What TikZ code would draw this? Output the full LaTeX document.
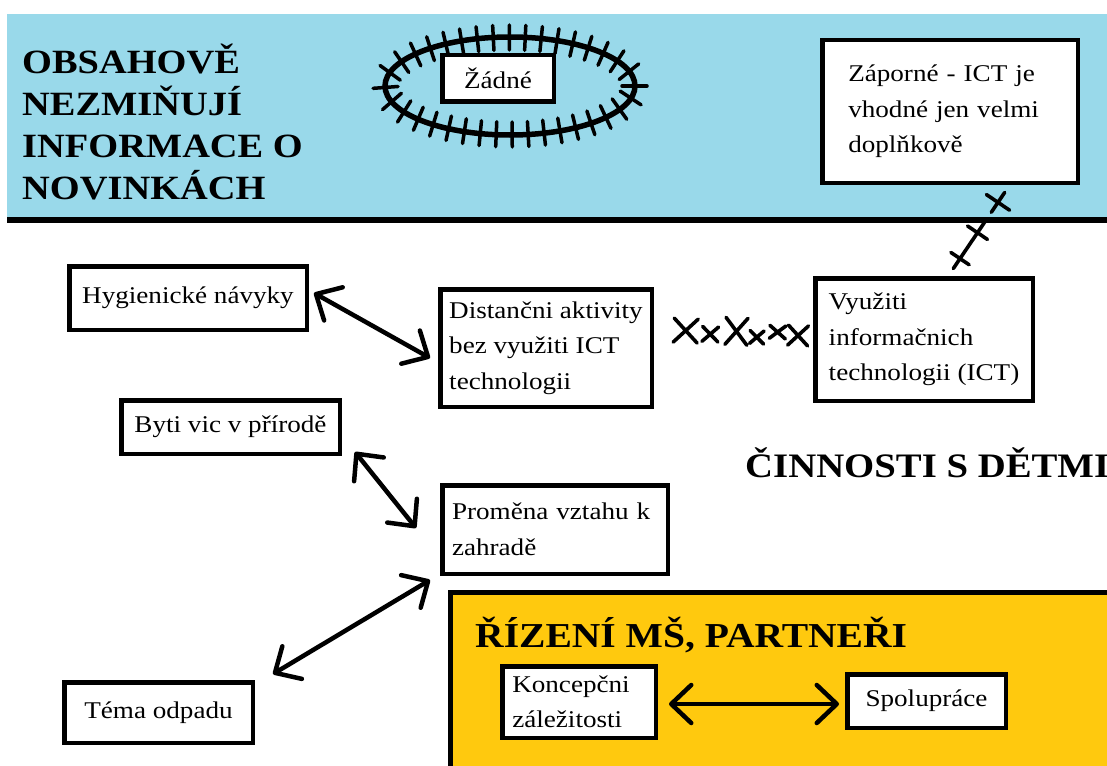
\documentclass[tikz,border=0pt]{standalone}
\usepackage{fontspec}
\setmainfont{Liberation Serif}[FakeStretch=1.13]
\usetikzlibrary{arrows.meta,decorations.markings}

\definecolor{bandblue}{HTML}{99D9EA}
\definecolor{gold}{HTML}{FFC90E}

\newcommand\txtbody{\fontsize{24}{35.5}\selectfont}
\newcommand\txthead{\bfseries\fontsize{34}{41.7}\selectfont}
\newcommand\txtsub{\bfseries\fontsize{35}{40}\selectfont}
\newcommand\txtkids{\bfseries\fontsize{34.3}{40}\selectfont}

\tikzset{
  box/.style={draw, line width=4.5pt, fill=white, inner sep=0pt,
              font=\txtbody, text=black},
  dbl/.style={line width=4.5pt, line cap=round,
              arrows={Straight Barb[length=20pt,width=38pt,round]-Straight Barb[length=20pt,width=38pt,round]}},
  hatch/.style={line width=3.5pt, line cap=round},
  xstroke/.style={line width=3.6pt, line cap=round},
  title/.style={inner sep=0pt, text=black},
}

\begin{document}
\begin{tikzpicture}[x=1pt, y=-1pt]
  \useasboundingbox (0,0) rectangle (1107,765);
  \clip (0,0) rectangle (1107,765);
  \fill[white] (0,0) rectangle (1107,765);

  % top band
  \fill[bandblue] (7,14) rectangle (1107,218);
  \draw[line width=6.5pt] (7,220) -- (1110,220);

  % management area
  \draw[line width=5.5pt, fill=gold] (450.5,592.5) rectangle (1130,790);

  % headings (the base anchor of a multi-line node sits on its last line)
  \node[title, anchor=base west, align=left, font=\txthead] (news) at (22,199)
    {OBSAHOVĚ\\NEZMIŇUJÍ\\INFORMACE O\\NOVINKÁCH};
  \node[title, anchor=base west, font=\txtkids] (kids) at (745,477) {ČINNOSTI S DĚTMI};
  \node[title, anchor=base west, font=\txtsub] (mgmt) at (475,647) {ŘÍZENÍ MŠ, PARTNEŘI};

  % hatched ring
  \draw[line width=5.5pt, postaction={decorate},
        decoration={markings, mark=between positions 0 and 0.99 step 16pt with
          {\draw[hatch] (0,-12pt) -- (0,13pt);}}]
    (510,86) ellipse [x radius=125pt, y radius=49pt];

  % boxes
  \node[box, minimum width=111.5pt, minimum height=46.5pt] (none) at (498,78.5) {Žádné};
  \node[box, minimum width=255.5pt, minimum height=142.5pt, text width=203.5pt, align=left]
    (neg) at (950,111.5) {Záporné - ICT je\\vhodné jen velmi\\doplňkově};
  \node[box, minimum width=237.5pt, minimum height=63.5pt] (hyg) at (188,298) {Hygienické návyky};
  \node[box, minimum width=211.5pt, minimum height=117.5pt, align=left]
    (dist) at (546,348) {Distančni aktivity\\bez využiti ICT\\technologii};
  \node[box, minimum width=217.5pt, minimum height=122.5pt, align=left]
    (ict) at (924,339.5) {Využiti\\informačnich\\technologii (ICT)};
  \node[box, minimum width=218.5pt, minimum height=53.5pt] (nature) at (230.5,427) {Byti vic v přírodě};
  \node[box, minimum width=225.5pt, minimum height=88.5pt, text width=206pt, align=left]
    (garden) at (555,529.5) {Proměna vztahu k\\zahradě};
  \node[box, minimum width=188.5pt, minimum height=60.5pt] (waste) at (158.5,712.5) {Téma odpadu};
  \node[box, minimum width=153.5pt, minimum height=71.5pt, text width=133.5pt, align=left]
    (concept) at (579,702) {Koncepčni\\záležitosti};
  \node[box, minimum width=158.5pt, minimum height=53.5pt] (coop) at (926.5,701) {Spolupráce};

  % double arrows
  \draw[dbl] ([shift={(5,-5)}]hyg.east) -- ([shift={(-8,10)}]dist.west);
  \draw[dbl] ([shift={(13,-4)}]nature.south east) -- ([shift={(-24,-1.5)}]garden.west);
  \draw[dbl] ([shift={(-10,4)}]garden.south west) -- ([shift={(18,-6)}]waste.north east);
  \draw[dbl] ([shift={(11,2)}]concept.east) -- ([shift={(-6,3)}]coop.west);

  % crossed-out links
  \path[postaction={decorate}, decoration={markings,
      mark=at position 0.10 with {\draw[xstroke] (-12pt,-12pt) -- (12pt,12pt) (-12pt,12pt) -- (12pt,-12pt);},
      mark=at position 0.28 with {\draw[xstroke] (-8pt,-10pt) -- (8pt,5pt) (-8pt,5pt) -- (8pt,-10pt);},
      mark=at position 0.47 with {\draw[xstroke] (-11pt,-12pt) -- (11pt,15pt) (-11pt,15pt) -- (11pt,-12pt);},
      mark=at position 0.62 with {\draw[xstroke] (-7pt,-10pt) -- (7pt,3pt) (-7pt,3pt) -- (7pt,-10pt);},
      mark=at position 0.77 with {\draw[xstroke] (-8pt,-4pt) -- (8pt,9pt) (-8pt,9pt) -- (8pt,-4pt);},
      mark=at position 0.92 with {\draw[xstroke] (-10pt,-10pt) -- (10pt,10pt) (-10pt,10pt) -- (10pt,-10pt);}}]
    ([shift={(18,-18)}]dist.east) -- ([shift={(-4,-3.5)}]ict.west);

  \path[postaction={decorate}, decoration={markings,
      mark=at position 0.10 with {\draw[xstroke] (-12pt,0) -- (12pt,0) (0,-11pt) -- (0,11pt);},
      mark=at position 0.45 with {\draw[xstroke] (-19pt,0) -- (17pt,0) (0,-12pt) -- (0,12pt);},
      mark=at position 0.86 with {\draw[xstroke] (-12pt,0) -- (12pt,0) (0,-14pt) -- (0,14pt);}}]
    ([shift={(31,-10)}]ict.north) -- ([shift={(55,7)}]neg.south);
\end{tikzpicture}
\end{document}
